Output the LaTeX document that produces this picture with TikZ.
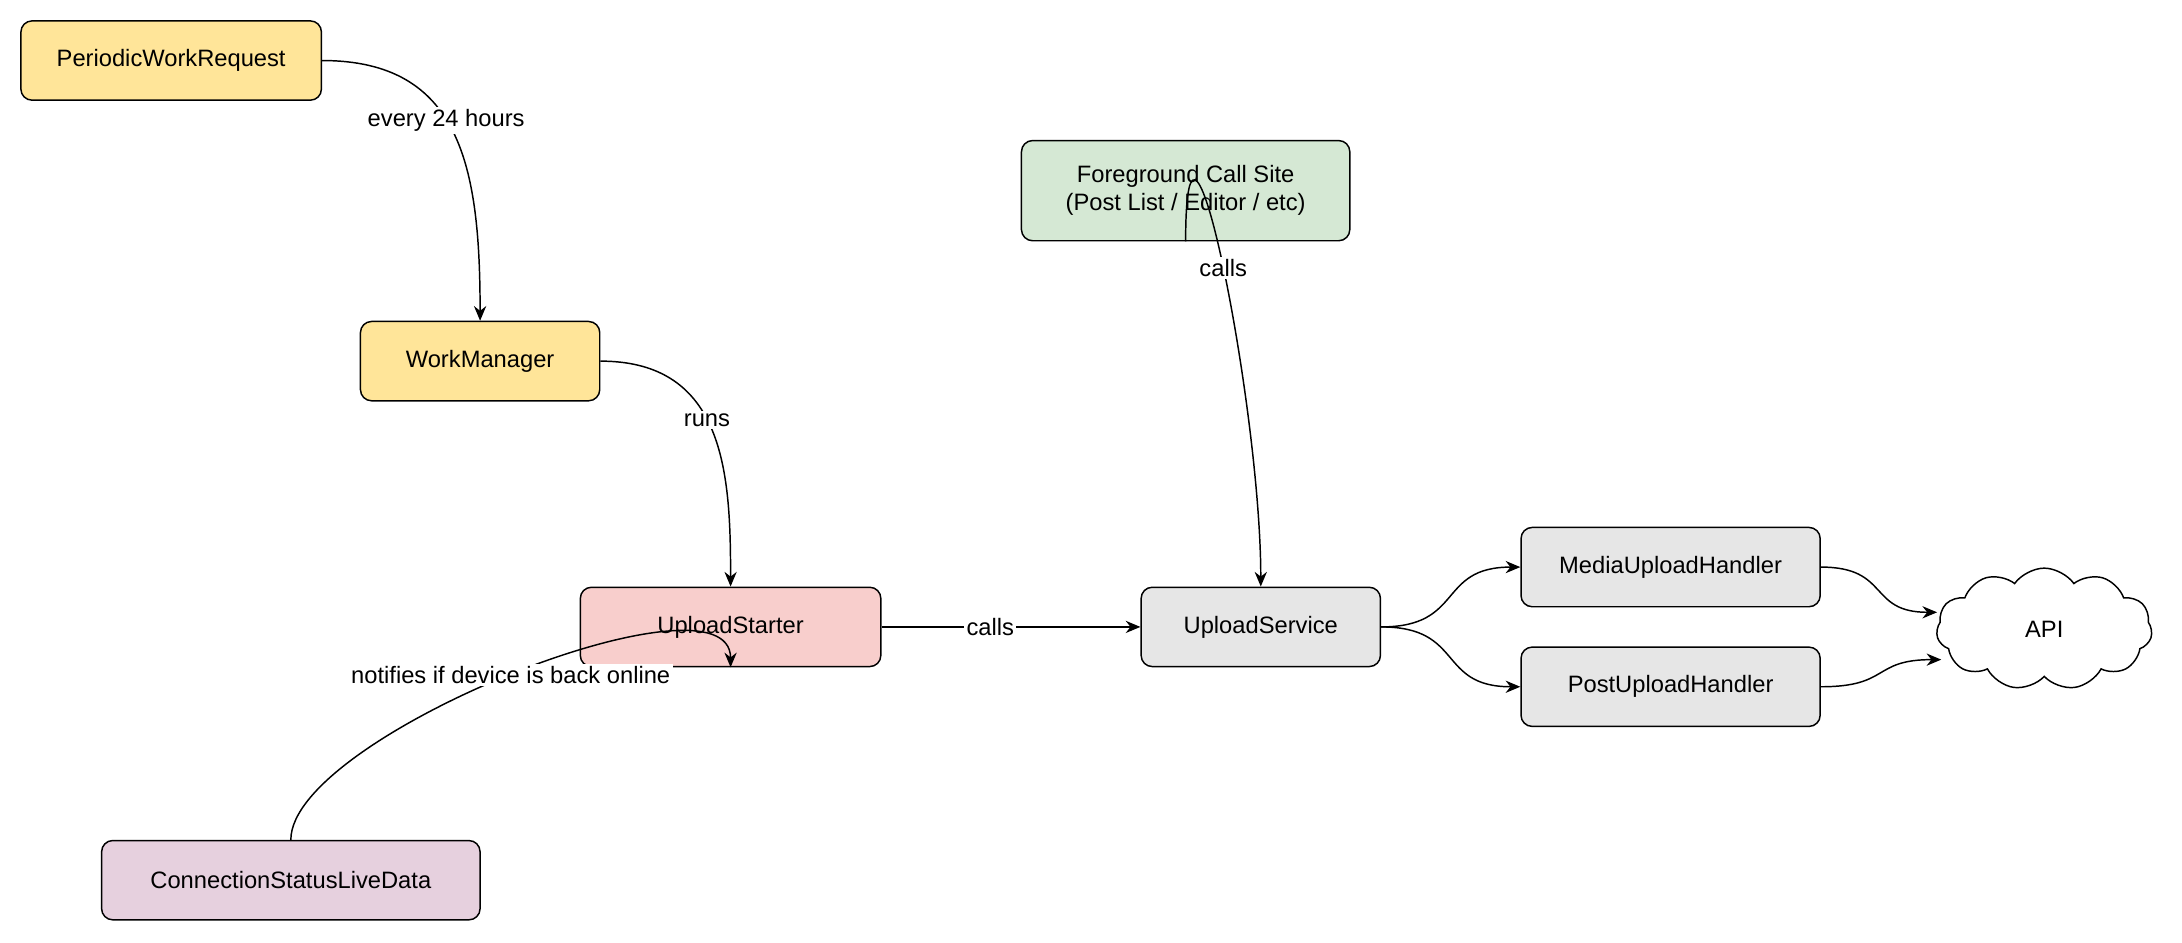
\documentclass[tikz,border=0pt]{standalone}
\usepackage{fontspec}
\setmainfont{Liberation Sans}
\usetikzlibrary{shapes.symbols,arrows.meta}
\definecolor{cyel}{HTML}{FFE599}
\definecolor{cred}{HTML}{F8CECC}
\definecolor{cpur}{HTML}{E6D0DE}
\definecolor{cgrn}{HTML}{D5E8D4}
\definecolor{cgry}{HTML}{E6E6E6}
\begin{document}
\begin{tikzpicture}[x=0.02cm,y=-0.02cm,
  box/.style={draw=black,line width=0.6pt,rounded corners=0.16cm,minimum height=1.14cm,inner sep=2pt,align=center,font=\fontsize{9.7}{11.5}\selectfont},
  conn/.style={draw=black,line width=0.6pt,-{Stealth[length=6pt,width=5pt]}},
  lbl/.style={fill=white,inner sep=1pt,font=\fontsize{9.7}{11.5}\selectfont}]
\useasboundingbox (0,0) rectangle (1568,677);
\node[box,fill=cyel,minimum width=4.32cm] (pwr) at (123,43.5) {PeriodicWorkRequest};
\node[box,fill=cyel,minimum width=3.44cm] (wm) at (345,259.5) {WorkManager};
\node[box,fill=cred,minimum width=4.32cm] (ust) at (525,450.5) {UploadStarter};
\node[box,fill=cpur,minimum width=5.44cm] (csld) at (209,632.5) {ConnectionStatusLiveData};
\node[box,fill=cgrn,minimum width=4.72cm,minimum height=1.44cm] (fg) at (852,137) {Foreground Call Site\\(Post List / Editor / etc)};
\node[box,fill=cgry,minimum width=3.44cm] (usv) at (906,450.5) {UploadService};
\node[box,fill=cgry,minimum width=4.3cm] (muh) at (1200.5,407.5) {MediaUploadHandler};
\node[box,fill=cgry,minimum width=4.3cm] (puh) at (1200.5,493.5) {PostUploadHandler};
\node[cloud,draw=black,line width=0.6pt,cloud puffs=11,cloud puff arc=110,aspect=1.8,minimum width=3.1cm,minimum height=1.75cm,inner sep=0pt,font=\fontsize{9.7}{11.5}\selectfont] (api) at (1469,452) {API};
\coordinate (apiA) at (1392,440);
\coordinate (apiB) at (1395,474);
\draw[conn] (pwr.east) .. controls +(100,0) and +(0,-110) .. node[lbl,pos=0.45]{every 24 hours} (wm.north);
\draw[conn] (wm.east) .. controls +(90,0) and +(0,-80) .. node[lbl,pos=0.45]{runs} (ust.north);
\draw[conn] (csld.north) .. controls +(0,-75) and +(0,-75) .. node[lbl,pos=0.5]{notifies if device is back online} (ust.south);
\draw[conn] (ust.east) -- node[lbl,pos=0.42]{calls} (usv.west);
\draw[conn] (fg.south) .. controls +(0,-150) and +(0,-130) .. node[lbl,pos=0.5]{calls} (usv.north);
\draw[conn] (usv.east) .. controls +(60,0) and +(-60,0) .. (muh.west);
\draw[conn] (usv.east) .. controls +(60,0) and +(-60,0) .. (puh.west);
\draw[conn] (muh.east) .. controls +(50,0) and +(-50,0) .. (apiA);
\draw[conn] (puh.east) .. controls +(50,0) and +(-50,0) .. (apiB);
\end{tikzpicture}
\end{document}
